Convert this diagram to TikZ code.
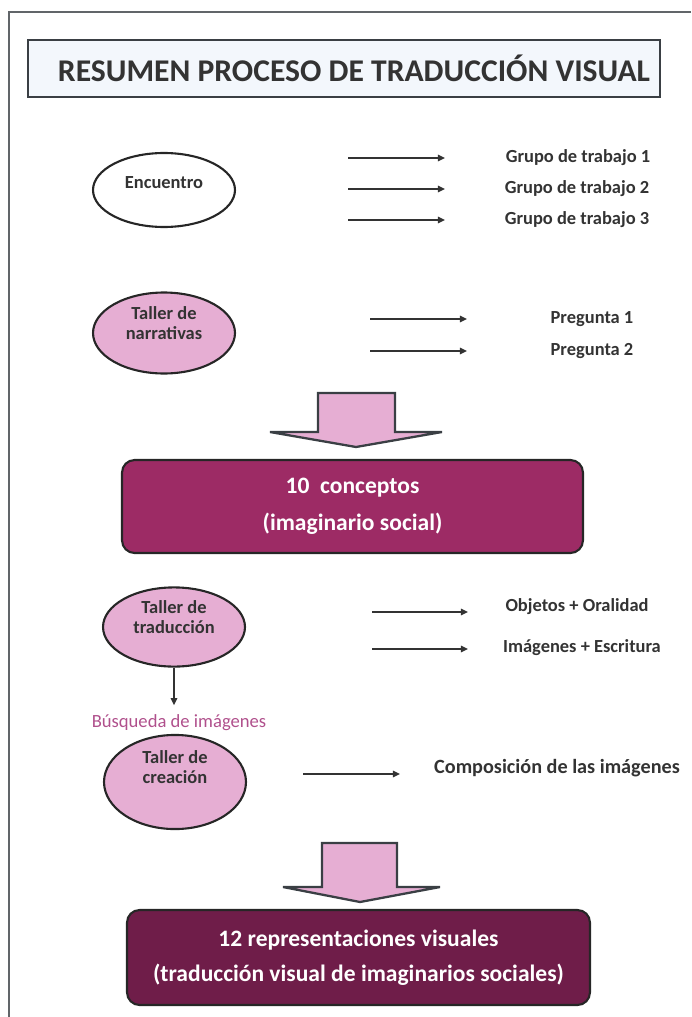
\documentclass[tikz,border=0pt]{standalone}
\usepackage{fontspec}
\setmainfont{Carlito}
\usetikzlibrary{shapes.geometric, arrows.meta}

\definecolor{rosaclaro}{HTML}{E6AED3}
\definecolor{moradomedio}{HTML}{9D2B65}
\definecolor{moradooscuro}{HTML}{6F1D49}
\definecolor{azultitulo}{HTML}{F3F7FC}
\definecolor{grisborde}{HTML}{3A3F44}
\definecolor{gristexto}{HTML}{333333}
\definecolor{lilatexto}{HTML}{B0508C}

\begin{document}
\begin{tikzpicture}[
        x=0.02cm, y=-0.02cm,
        every node/.style = {font=\bfseries\fontsize{10.5}{11.5}\selectfont, text=gristexto},
        taller/.style = {ellipse, draw=black!85, line width=1.2pt, minimum width=2.84cm,
                         minimum height=1.5cm, align=center, inner sep=1pt, text depth=11pt},
        resultado/.style = {rectangle, rounded corners=0.25cm, draw=black!85, line width=1.2pt,
                            align=center, text=white, font=\bfseries\fontsize{13.4}{15}\selectfont},
        flecha/.style = {draw=black!80, line width=1.3pt, -{Triangle[length=4pt,width=3.6pt]}},
        bloque/.style = {draw=grisborde, line width=1.3pt, fill=rosaclaro, line join=miter}
        ]
        \useasboundingbox (0,0) rectangle (691,1017);

        % marco
        \draw[line width=1.6pt, grisborde!80] (691,12) -- (9,12) -- (9,1017);

        % titulo
        \node[draw=grisborde, line width=1.3pt, fill=azultitulo, minimum width=12.64cm,
              minimum height=1.14cm, font=\bfseries\fontsize{18}{21}\selectfont] (titulo)
              at (344,68.5) {\hspace*{0.4cm}RESUMEN PROCESO DE TRADUCCIÓN VISUAL};

        % encuentro
        \node[taller, fill=white, minimum height=1.48cm, text depth=9pt] (encuentro) at (164,190) {Encuentro};
        \coordinate (g1a) at (348,158); \coordinate (g1b) at (445,158);
        \coordinate (g2a) at (348,189); \coordinate (g2b) at (445,189);
        \coordinate (g3a) at (348,220); \coordinate (g3b) at (445,220);
        \draw[flecha] (g1a) -- (g1b);
        \draw[flecha] (g2a) -- (g2b);
        \draw[flecha] (g3a) -- (g3b);
        \node (grupo1) at (578,158) {Grupo de trabajo 1};
        \node (grupo2) at (577,189) {Grupo de trabajo 2};
        \node (grupo3) at (577,220) {Grupo de trabajo 3};

        % narrativas
        \node[taller, fill=rosaclaro, minimum height=1.62cm] (narrativas) at (164,333) {Taller de\\narrativas};
        \coordinate (p1a) at (370,319); \coordinate (p1b) at (467,319);
        \coordinate (p2a) at (370,351); \coordinate (p2b) at (467,351);
        \draw[flecha] (p1a) -- (p1b);
        \draw[flecha] (p2a) -- (p2b);
        \node (pregunta1) at (592,319) {Pregunta 1};
        \node (pregunta2) at (592,351) {Pregunta 2};

        \draw[bloque] (318,393) -- (395,393) -- (395,432) -- (442,432) -- (356,447)
                      -- (270,432) -- (318,432) -- cycle;

        \node[resultado, fill=moradomedio, minimum width=9.22cm, minimum height=1.86cm] (conceptos)
              at (352.5,506.5) {10\ \ conceptos\\[6pt](imaginario social)};

        % traduccion
        \node[taller, fill=rosaclaro, minimum height=1.46cm] (traduccion) at (174,627) {Taller de\\traducción};
        \coordinate (o1a) at (372,612); \coordinate (o1b) at (468,612);
        \coordinate (o2a) at (372,649); \coordinate (o2b) at (468,649);
        \draw[flecha] (o1a) -- (o1b);
        \draw[flecha] (o2a) -- (o2b);
        \node (objetos) at (577,607) {Objetos + Oralidad};
        \node (imagenes) at (582,648) {Imágenes + Escritura};

        \node[text=lilatexto, font=\fontsize{10.6}{12}\selectfont] (busqueda) at (179,723) {Búsqueda de imágenes};
        \draw[flecha] (traduccion.south) -- ([yshift=2pt]traduccion.south |- busqueda.north);

        % creacion
        \node[taller, fill=rosaclaro, minimum height=1.58cm, text depth=17pt] (creacion) at (175,782) {Taller de\\creación};
        \coordinate (c1a) at (303,774); \coordinate (c1b) at (400,774);
        \draw[flecha] (c1a) -- (c1b);
        \node[font=\bfseries\fontsize{11.5}{13}\selectfont] (composicion) at (557,768) {Composición de las imágenes};

        \draw[bloque] (322,843) -- (397,843) -- (397,887) -- (440,887) -- (360,902)
                      -- (283,887) -- (322,887) -- cycle;

        \node[resultado, fill=moradooscuro, minimum width=9.26cm, minimum height=1.9cm] (representaciones)
              at (358.5,957.5) {12 representaciones visuales\\[5pt](traducción visual de imaginarios sociales)};
    \end{tikzpicture}
\end{document}
